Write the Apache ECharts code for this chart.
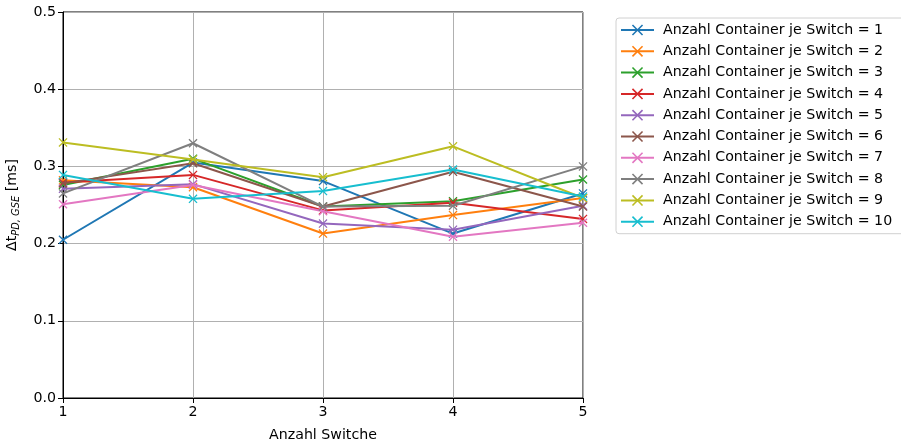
<!DOCTYPE html>
<html>
<head>
<meta charset="utf-8">
<script src="https://cdn.jsdelivr.net/npm/echarts@6/dist/echarts.min.js"></script>
<style>
  html, body { margin: 0; padding: 0; background: #fff; }
  #chart { width: 901px; height: 447px; }
</style>
</head>
<body>
<div id="chart"></div>
<script>
// Anzahl Switche (x axis)
const switche = [1, 2, 3, 4, 5];

// Δt_PD,GSE in ms, one array per container count per switch
const c1  = [0.205, 0.305, 0.281, 0.213, 0.265];
const c2  = [0.282, 0.273, 0.213, 0.237, 0.259];
const c3  = [0.276, 0.310, 0.248, 0.255, 0.283];
const c4  = [0.279, 0.289, 0.243, 0.253, 0.232];
const c5  = [0.271, 0.277, 0.226, 0.218, 0.249];
const c6  = [0.278, 0.304, 0.248, 0.293, 0.248];
const c7  = [0.251, 0.276, 0.242, 0.209, 0.227];
const c8  = [0.265, 0.330, 0.248, 0.249, 0.300];
const c9  = [0.331, 0.309, 0.286, 0.326, 0.259];
const c10 = [0.289, 0.258, 0.268, 0.296, 0.261];

const seriesValues = [c1, c2, c3, c4, c5, c6, c7, c8, c9, c10];
const seriesNames = seriesValues.map((_, i) => 'Anzahl Container je Switch = ' + (i + 1));
const palette = ['#1f77b4', '#ff7f0e', '#2ca02c', '#d62728', '#9467bd',
                 '#8c564b', '#e377c2', '#7f7f7f', '#bcbd22', '#17becf'];

// thin "x" marker
const xMarker = 'path://M0,1 L1,0 L5,4 L9,0 L10,1 L6,5 L10,9 L9,10 L5,6 L1,10 L0,9 L4,5 Z';

const font = 'DejaVu Sans';
const fs = 14.2;

const chart = echarts.init(document.getElementById('chart'), null, { renderer: 'canvas' });

chart.setOption({
  animation: false,
  color: palette,
  textStyle: { fontFamily: font },
  grid: {
    left: 63, top: 12, width: 520, height: 386,
    outerBoundsMode: 'none',
    containLabel: false,
    show: true, borderColor: '#000', borderWidth: 1, backgroundColor: 'transparent'
  },
  legend: {
    orient: 'vertical',
    left: 616, top: 18,
    padding: [5, 14, 5, 4],
    itemGap: 7.3,
    itemWidth: 33, itemHeight: 14,
    borderColor: '#d0d0d0', borderWidth: 1, borderRadius: 3,
    textStyle: { fontFamily: font, fontSize: fs, color: '#000', padding: [0, 0, 0, 4] },
    data: seriesNames
  },
  xAxis: {
    type: 'value',
    min: 1, max: 5, interval: 1,
    name: 'Anzahl Switche',
    nameLocation: 'middle',
    nameGap: 30,
    nameTextStyle: { fontFamily: font, fontSize: fs, color: '#000' },
    axisLine: { show: true, onZero: false, lineStyle: { color: '#000', width: 1 } },
    axisTick: { show: true, length: 5, lineStyle: { color: '#000' } },
    axisLabel: { fontFamily: font, fontSize: fs, color: '#000', margin: 7 },
    splitLine: { show: true, lineStyle: { color: '#b0b0b0', width: 1 } }
  },
  yAxis: {
    type: 'value',
    min: 0, max: 0.5, interval: 0.1,
    name: '{m|Δt}{s|PD, GSE}{m| [ms]}',
    nameLocation: 'middle',
    nameGap: 42,
    nameTextStyle: {
      fontFamily: font, color: '#000',
      rich: {
        m: { fontFamily: font, fontSize: fs, color: '#000' },
        s: { fontFamily: font, fontSize: 9.9, fontStyle: 'italic', color: '#000', padding: [7, 0, 0, 0] }
      }
    },
    axisLine: { show: true, onZero: false, lineStyle: { color: '#000', width: 1 } },
    axisTick: { show: true, length: 5, lineStyle: { color: '#000' } },
    axisLabel: { fontFamily: font, fontSize: fs, color: '#000', margin: 7,
                 formatter: v => v.toFixed(1) },
    splitLine: { show: true, lineStyle: { color: '#b0b0b0', width: 1 } }
  },
  series: seriesValues.map((vals, i) => ({
    name: seriesNames[i],
    type: 'line',
    data: switche.map((x, j) => [x, vals[j]]),
    symbol: xMarker,
    symbolSize: 9,
    showSymbol: true,
    lineStyle: { width: 2, color: palette[i] },
    itemStyle: { color: palette[i] },
    emphasis: { disabled: true },
    z: 2 + i
  }))
});
</script>
</body>
</html>
